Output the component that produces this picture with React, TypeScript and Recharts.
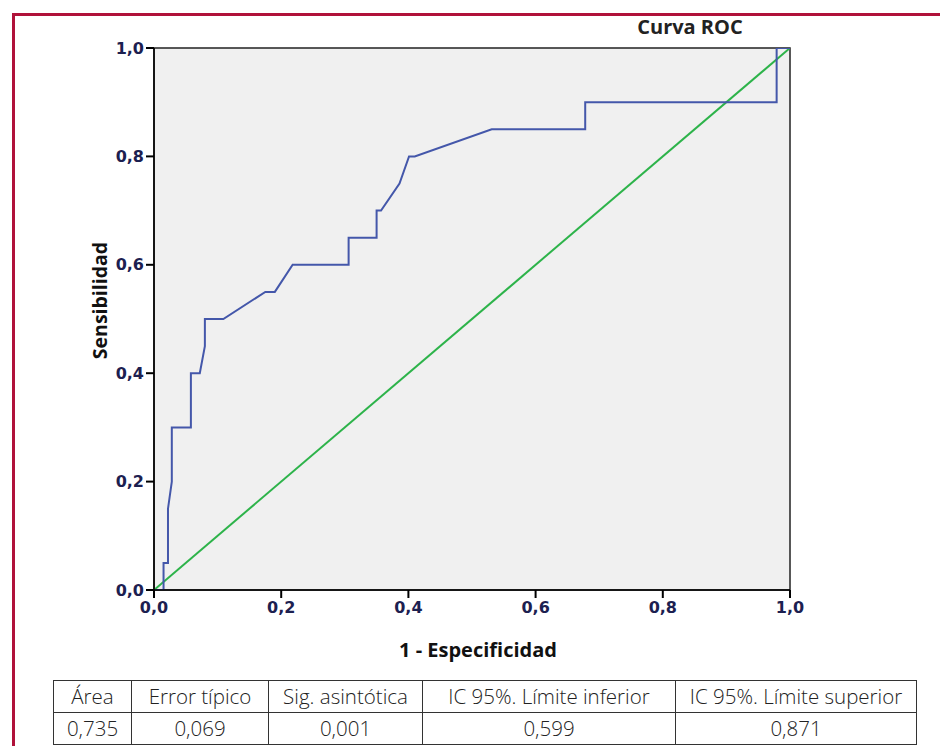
import React from 'react';
import { LineChart, Line, XAxis, YAxis, ReferenceArea } from 'recharts';

const rocX = [0, 0.015, 0.015, 0.022, 0.022, 0.028, 0.028, 0.058, 0.058, 0.072, 0.08, 0.08, 0.109, 0.175, 0.19, 0.218, 0.306, 0.306, 0.35, 0.35, 0.357, 0.386, 0.401, 0.41, 0.531, 0.678, 0.678, 0.979, 0.979, 1];
const rocY = [0, 0, 0.05, 0.05, 0.15, 0.2, 0.3, 0.3, 0.4, 0.4, 0.45, 0.5, 0.5, 0.55, 0.55, 0.6, 0.6, 0.65, 0.65, 0.7, 0.7, 0.75, 0.8, 0.8, 0.85, 0.85, 0.9, 0.9, 1, 1];
const refX = [0, 1];
const refY = [0, 1];
const ticks = [0, 0.2, 0.4, 0.6, 0.8, 1];

const tableHeaders = ['Área', 'Error típico', 'Sig. asintótica', 'IC 95%. Límite inferior', 'IC 95%. Límite superior'];
const tableValues = ['0,735', '0,069', '0,001', '0,599', '0,871'];
const colWidths = [78, 137, 154, 253, 241];

const rocData = rocX.map((x, i) => ({ x, y: rocY[i] }));
const refData = refX.map((x, i) => ({ x, y: refY[i] }));

const fmt = (v: number) => v.toFixed(1).replace('.', ',');
const tickStyle = { fontSize: 16, fontWeight: 700, fill: '#1c2050', fontFamily: '"DejaVu Sans", sans-serif' };

export default function App() {
  const cellStyle: React.CSSProperties = {
    border: '1.5px solid #333',
    padding: 0,
    height: 31,
    textAlign: 'center',
    fontFamily: '"Open Sans", sans-serif',
    fontSize: 20.5,
    color: '#222',
    fontWeight: 300,
    whiteSpace: 'nowrap',
    lineHeight: '31px',
  };
  return (
    <div style={{ position: 'absolute', left: 0, top: 0, width: 940, height: 746, background: '#fff', overflow: 'hidden' }}>
      <div style={{ position: 'absolute', left: 12, top: 13, width: 940, height: 3, background: '#b0123a' }} />
      <div style={{ position: 'absolute', left: 12, top: 13, width: 3, height: 746, background: '#b0123a' }} />
      <div style={{ position: 'absolute', left: 0, top: 0 }}>
        <LineChart width={940} height={746} margin={{ top: 48, right: 150, left: 94, bottom: 126 }}>
          <XAxis
            type="number"
            dataKey="x"
            domain={[0, 1]}
            ticks={ticks}
            tickFormatter={fmt}
            tick={tickStyle}
            fontSize={16}
            tickSize={8}
            tickMargin={4}
            height={30}
            axisLine={{ stroke: '#000', strokeWidth: 1.5 }}
            tickLine={{ stroke: '#000', strokeWidth: 2 }}
            allowDataOverflow
          />
          <YAxis
            type="number"
            dataKey="y"
            domain={[0, 1]}
            ticks={ticks}
            tickFormatter={fmt}
            tick={tickStyle}
            fontSize={16}
            tickSize={8}
            tickMargin={2}
            width={60}
            axisLine={{ stroke: '#000', strokeWidth: 1.5 }}
            tickLine={{ stroke: '#000', strokeWidth: 2 }}
            allowDataOverflow
          />
          <ReferenceArea x1={0} x2={1} y1={0} y2={1} fill="#f0f0f0" fillOpacity={1} stroke="#222" strokeWidth={1.5} />
          <Line data={refData} dataKey="y" type="linear" stroke="#2db34a" strokeWidth={2} dot={false} isAnimationActive={false} />
          <Line data={rocData} dataKey="y" type="linear" stroke="#4457aa" strokeWidth={2} dot={false} isAnimationActive={false} />
        </LineChart>
      </div>
      <div style={{ position: 'absolute', left: 590, top: 13, width: 200, textAlign: 'center', fontFamily: '"Open Sans", sans-serif', fontWeight: 700, fontSize: 20, color: '#222' }}>
        Curva ROC
      </div>
      <div style={{ position: 'absolute', left: 328, top: 636, width: 300, textAlign: 'center', fontFamily: '"Open Sans", sans-serif', fontWeight: 700, fontSize: 20, color: '#111' }}>
        1 - Especificidad
      </div>
      <div style={{ position: 'absolute', left: 99, top: 301, width: 0, height: 0 }}>
        <div style={{ position: 'absolute', left: -100, top: -14, width: 200, textAlign: 'center', transform: 'rotate(-90deg)', fontFamily: '"Open Sans", sans-serif', fontWeight: 700, fontSize: 19.5, color: '#111' }}>
          Sensibilidad
        </div>
      </div>
      <table style={{ position: 'absolute', left: 53, top: 680, borderCollapse: 'collapse', tableLayout: 'fixed', width: 863 }}>
        <colgroup>
          {colWidths.map((w, i) => <col key={i} style={{ width: w }} />)}
        </colgroup>
        <tbody>
          <tr>{tableHeaders.map((h, i) => <td key={i} style={cellStyle}>{h}</td>)}</tr>
          <tr>{tableValues.map((v, i) => <td key={i} style={cellStyle}>{v}</td>)}</tr>
        </tbody>
      </table>
    </div>
  );
}
